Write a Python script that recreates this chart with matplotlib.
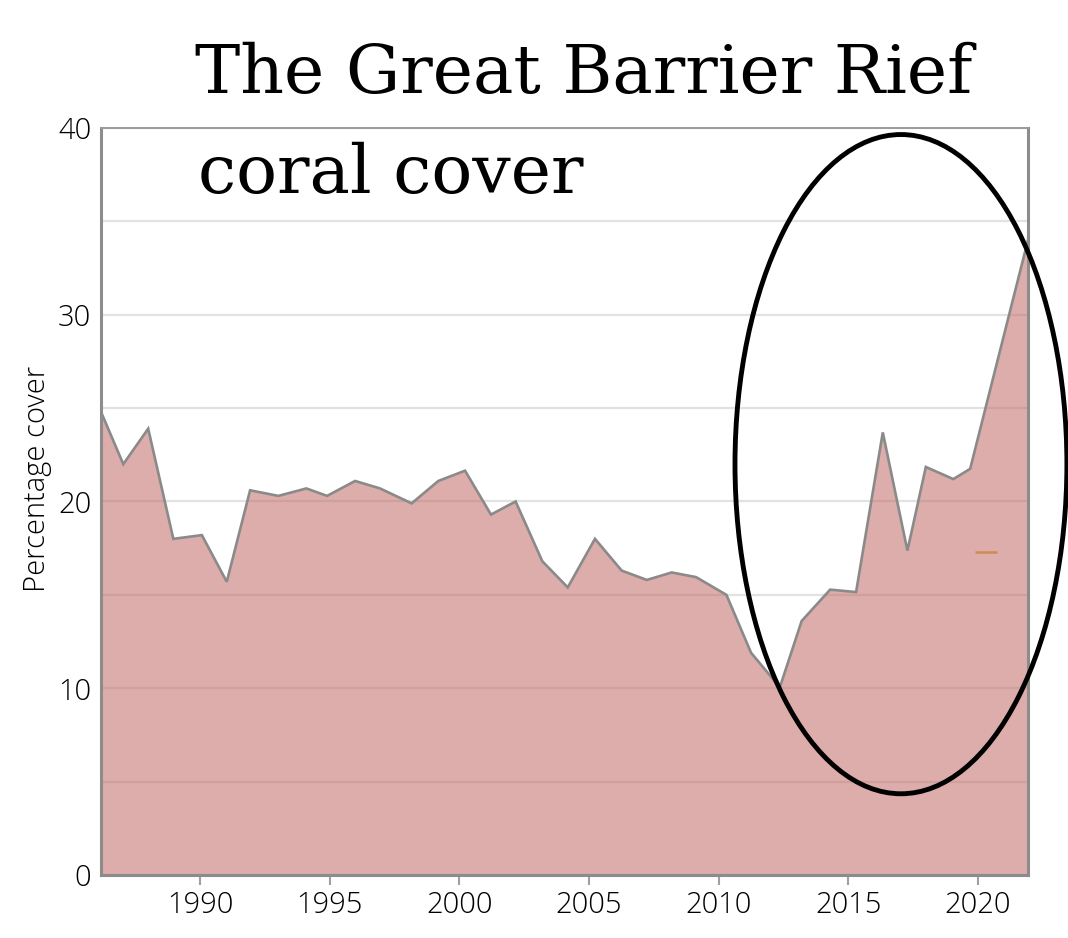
import matplotlib
matplotlib.use("Agg")
import matplotlib.pyplot as plt
from matplotlib.patches import Ellipse
from matplotlib.ticker import MultipleLocator

# ---- data ----
years = [1986.18, 1987.04, 1988.0, 1988.97, 1990.07, 1991.03, 1991.93, 1993.02,
         1994.1, 1994.9, 1995.98, 1996.94, 1998.16, 1999.19, 2000.22, 2001.22,
         2002.17, 2003.2, 2004.18, 2005.23, 2006.26, 2007.23, 2008.19, 2009.13,
         2010.3, 2011.25, 2012.36, 2013.2, 2014.3, 2015.3, 2016.33, 2017.28,
         2017.99, 2019.05, 2019.7, 2021.93]
cover = [24.8, 22.0, 23.9, 18.0, 18.2, 15.7, 20.6, 20.3,
         20.7, 20.3, 21.1, 20.7, 19.9, 21.1, 21.65, 19.3,
         20.0, 16.8, 15.4, 18.0, 16.3, 15.8, 16.2, 15.95,
         15.0, 11.9, 10.05, 13.6, 15.28, 15.15, 23.7, 17.37,
         21.85, 21.2, 21.75, 34.0]
xticks = [1990, 1995, 2000, 2005, 2010, 2015, 2020]
yticks = [0, 10, 20, 30, 40]
title = "The Great Barrier Rief"
subtitle = "coral cover"
ylabel = "Percentage cover"
# annotation marks
ellipse_center = (2017.03, 22.0)
ellipse_size = (12.8, 35.3)
dash_x = [2019.9, 2020.75]
dash_y = [17.3, 17.3]

W, H = 1068, 938
fig = plt.figure(figsize=(W / 100, H / 100), dpi=100)
ax = fig.add_axes([101 / W, 1 - 875 / H, (1028 - 101) / W, (875 - 128) / H])

ax.set_xlim(1986.18, 2021.93)
ax.set_ylim(0, 40)

ax.yaxis.set_major_locator(MultipleLocator(10))
ax.yaxis.set_minor_locator(MultipleLocator(5))
ax.grid(True, axis="y", which="both", color="#e2e2e2", lw=1.6, zorder=0)
ax.set_axisbelow(True)

ax.fill_between(years, cover, 0, color=(192 / 255, 106 / 255, 100 / 255),
                alpha=0.55, lw=0, zorder=1)
ax.plot(years, cover, color="#8a8a8a", lw=1.9, zorder=3, solid_joinstyle="miter")

ax.set_xticks(xticks)
ax.set_yticks(yticks)
tickfont = "Open Sans"
for lab in ax.get_xticklabels() + ax.get_yticklabels():
    lab.set_fontfamily(tickfont)
    lab.set_fontweight("light")
ax.tick_params(axis="x", which="major", length=7, width=1.5, color="#a0a0a0",
               labelsize=21, pad=4, labelcolor="#000000")
ax.tick_params(axis="y", which="both", length=0, labelsize=21, pad=7,
               labelcolor="#000000")

for side in ["left", "bottom", "right"]:
    ax.spines[side].set_color("#8c8c8c")
    ax.spines[side].set_linewidth(2.2)
ax.spines["top"].set_color("#9a9a9a")
ax.spines["top"].set_linewidth(1.4)

ax.set_ylabel(ylabel, fontfamily=tickfont, fontweight="light", fontsize=21,
              color="#000000")
ax.yaxis.set_label_coords(-0.053, 0.53)

# hand-drawn annotations
ell = Ellipse(ellipse_center, ellipse_size[0], ellipse_size[1], fill=False,
              edgecolor="black", lw=3.5, clip_on=False, zorder=5)
ax.add_patch(ell)
ax.plot(dash_x, dash_y, color="#cf8a55", lw=1.8, zorder=4, solid_capstyle="butt")

fig.text(195 / W, 1 - 93 / H, title, fontfamily="DejaVu Serif", fontsize=49,
         ha="left", va="baseline", color="black")
fig.text(198 / W, 1 - 193 / H, subtitle, fontfamily="DejaVu Serif", fontsize=49,
         ha="left", va="baseline", color="black")

fig.savefig("out.png", dpi=100)
